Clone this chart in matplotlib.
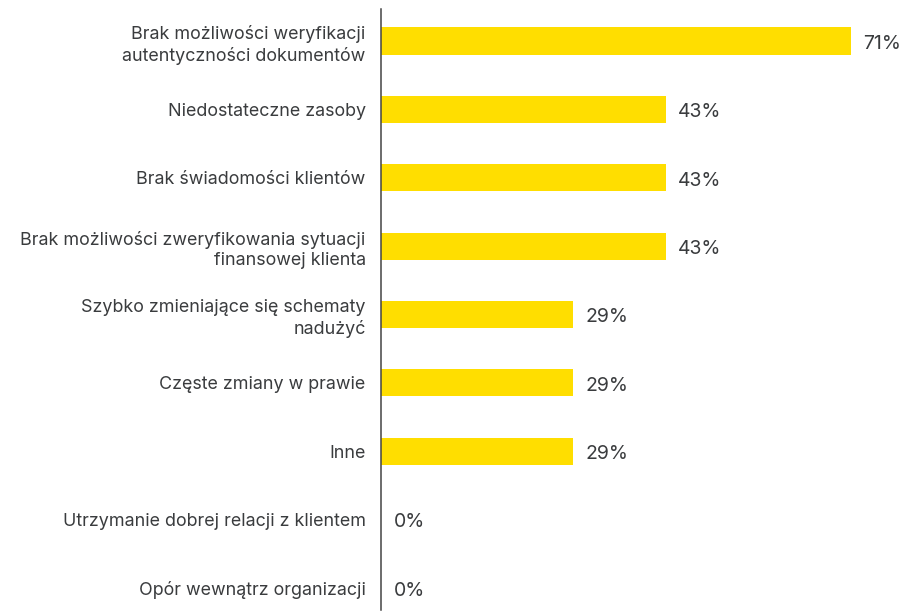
import matplotlib.pyplot as plt

categories = [
    "Brak możliwości weryfikacji\nautentyczności dokumentów",
    "Niedostateczne zasoby",
    "Brak świadomości klientów",
    "Brak możliwości zweryfikowania sytuacji\nfinansowej klienta",
    "Szybko zmieniające się schematy\nnadużyć",
    "Częste zmiany w prawie",
    "Inne",
    "Utrzymanie dobrej relacji z klientem",
    "Opór wewnątrz organizacji",
]
values = [71, 43, 43, 43, 29, 29, 29, 0, 0]

plt.rcParams['font.family'] = ['Inter', 'DejaVu Sans']
text_color = "#3a3c3e"

fig = plt.figure(figsize=(9.08, 6.14), dpi=100)
ax = fig.add_axes([381 / 908, 4 / 614, 527 / 908, 601 / 614])

y = list(range(len(categories)))
ax.barh(y, values, height=0.395, color="#ffde00")

for yi, v in zip(y, values):
    ax.text(v + 1.9, yi + 0.04, f"{v}%", va="center", ha="left",
            fontsize=14, color=text_color)

ax.set_yticks(y)
ax.set_yticklabels(categories, fontsize=12.9, color=text_color,
                   linespacing=1.25)
ax.tick_params(axis="y", length=0, pad=11)
ax.set_xticks([])
ax.set_xlim(0, 527 / 6.62)
ax.set_ylim(8.32, -0.468)

for side in ["top", "right", "bottom"]:
    ax.spines[side].set_visible(False)
ax.spines["left"].set_color("#444444")
ax.spines["left"].set_linewidth(1.1)

fig.savefig("out.png", dpi=100)
